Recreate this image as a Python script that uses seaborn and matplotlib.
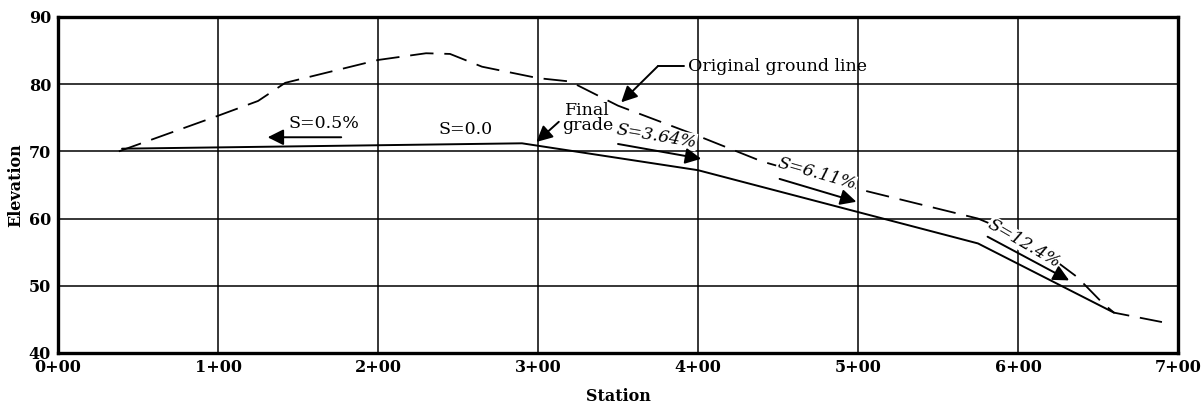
import math

import matplotlib
matplotlib.use("Agg")
import matplotlib.pyplot as plt
import pandas as pd
import seaborn as sns

# ── data ───────────────────────────────────────────────────────────────────
GROUND_STA  = [0.38, 1.00, 1.25, 1.42, 2.00, 2.30, 2.45, 2.65, 3.00, 3.20,
               3.50, 4.00, 4.40, 5.00, 5.75, 6.05, 6.37, 6.53, 6.60, 6.90]
GROUND_ELEV = [70.0, 75.3, 77.5, 80.2, 83.6, 84.6, 84.5, 82.6, 80.9, 80.4,
               76.8, 72.3, 68.5, 64.4, 60.0, 57.0, 51.3, 47.4, 46.0, 44.6]

GRADE_STA  = [0.40, 2.90, 4.00, 5.75, 6.60]
GRADE_ELEV = [70.4, 71.2, 67.2, 56.3, 46.0]

X_TICKS  = [0, 1, 2, 3, 4, 5, 6, 7]
X_LABELS = [f"{t}+00" for t in X_TICKS]
Y_TICKS  = [40, 50, 60, 70, 80, 90]

# slope labels: text, text anchor, grade (% used for rotation), arrow tail, arrow head
SLOPE_TEXT  = ["S=0.5%", "S=0.0", "S=3.64%", "S=6.11%", "S=12.4%"]
SLOPE_POS   = [(1.66, 74.1), (2.55, 73.3), (3.74, 72.3), (4.74, 66.6), (6.04, 56.3)]
SLOPE_GRADE = [0.0, 0.0, 3.64, 6.11, 12.4]
SLOPE_ITAL  = [False, False, True, True, True]
ARROW_TAIL  = [(1.77, 72.1), None, (3.50, 71.1), (4.51, 65.9), (5.81, 57.3)]
ARROW_HEAD  = [(1.31, 72.1), None, (4.02, 68.9), (4.99, 62.5), (6.32, 50.8)]

FONT = "DejaVu Serif"

sns.set_theme(style="white")
plt.rcParams["font.family"] = [FONT]
plt.rcParams["text.color"] = "black"
plt.rcParams["axes.labelcolor"] = "black"

ground = pd.DataFrame({"station": GROUND_STA, "elevation": GROUND_ELEV})
grade  = pd.DataFrame({"station": GRADE_STA, "elevation": GRADE_ELEV})

fig = plt.figure(figsize=(12.02, 4.09), dpi=100)
ax = fig.add_axes([0.0483, 0.137, 0.9317, 0.8215])

sns.lineplot(data=ground, x="station", y="elevation", ax=ax, color="black",
             lw=1.3, sort=False, estimator=None)
ax.lines[-1].set_dashes((13, 6))
sns.lineplot(data=grade, x="station", y="elevation", ax=ax, color="black",
             lw=1.4, sort=False, estimator=None)

ax.set_xlim(0, 7)
ax.set_ylim(40, 90)
ax.set_xticks(X_TICKS)
ax.set_xticklabels(X_LABELS)
ax.set_yticks(Y_TICKS)
ax.grid(True, color="black", lw=1.1)
ax.set_axisbelow(True)
for s in ax.spines.values():
    s.set_color("black")
    s.set_linewidth(2.4)
ax.tick_params(axis="both", length=0, labelsize=11.5, colors="black")
ax.tick_params(axis="x", pad=4)
ax.tick_params(axis="y", pad=5)
for lab in ax.get_xticklabels() + ax.get_yticklabels():
    lab.set_fontweight("bold")
ax.set_xlabel("Station", fontsize=11.5, fontweight="bold", labelpad=9)
ax.set_ylabel("Elevation", fontsize=11.5, fontweight="bold", labelpad=3)

fig.canvas.draw()


def screen_angle(pct):
    """On-screen angle (deg) of a downhill line at the given % grade."""
    p0 = ax.transData.transform((0, 0))
    p1 = ax.transData.transform((1, -pct))
    return math.degrees(math.atan2(p1[1] - p0[1], p1[0] - p0[0]))


arrow_kw = dict(arrowstyle="-|>", color="black", lw=1.4,
                mutation_scale=24, shrinkA=0, shrinkB=0)

for txt, pos, g, ital, tail, head in zip(SLOPE_TEXT, SLOPE_POS, SLOPE_GRADE,
                                         SLOPE_ITAL, ARROW_TAIL, ARROW_HEAD):
    ax.text(*pos, txt, fontsize=12.5, ha="center", va="center",
            rotation=screen_angle(g) * 1.1 if g else 0,
            rotation_mode="anchor", style="italic" if ital else "normal",
            bbox=dict(fc="white", ec="none", pad=0.3) if ital else None)
    if tail is not None:
        ax.annotate("", xy=head, xytext=tail, arrowprops=arrow_kw)

# "Final grade" callout
ax.text(3.31, 75.0, "Final\ngrade", fontsize=12.5, ha="center", va="center",
        linespacing=0.85)
ax.annotate("", xy=(2.99, 71.4), xytext=(3.13, 74.4), arrowprops=arrow_kw)

# "Original ground line" callout (horizontal leader then arrow)
ax.text(3.94, 82.7, "Original ground line", fontsize=12.5, ha="left",
        va="center")
ax.plot([3.75, 3.91], [82.7, 82.7], color="black", lw=1.4)
ax.annotate("", xy=(3.52, 77.3), xytext=(3.75, 82.7), arrowprops=arrow_kw)

fig.savefig("out.png", dpi=100)
